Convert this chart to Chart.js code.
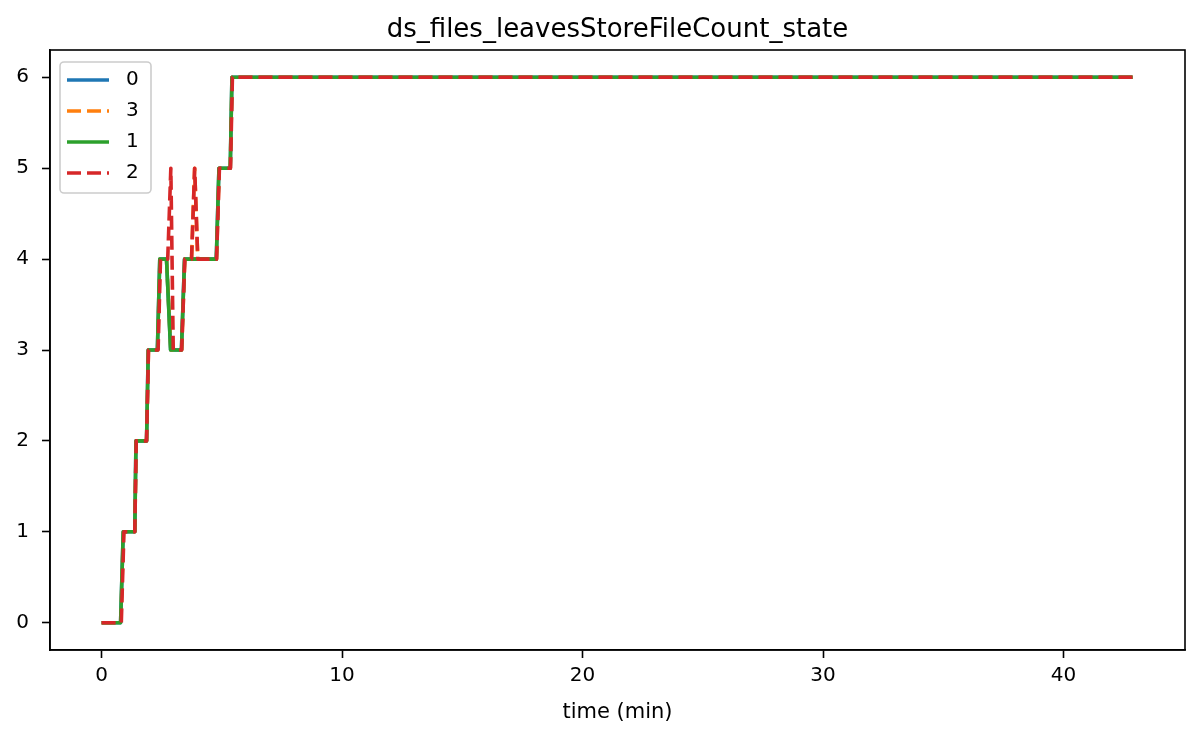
<!DOCTYPE html>
<html>
<head>
<meta charset="utf-8">
<script src="https://cdn.jsdelivr.net/npm/chart.js@4"></script>
<style>
    html, body { margin: 0; padding: 0; background: #fff; }
    #wrapper { width: 1194px; height: 735px; }
</style>
</head>
<body>
<div id="wrapper"><canvas id="chart" width="1194" height="735"></canvas></div>
<script>
const chartTitle = 'ds_files_leavesStoreFileCount_state'
const xLabel = 'time (min)'
const xTicks = [0, 10, 20, 30, 40]
const yTicks = [0, 1, 2, 3, 4, 5, 6]

// legend order as in the picture
const seriesLabels = ['0', '3', '1', '2']
const seriesColors = ['#1f77b4', '#ff7f0e', '#2ca02c', '#d62728']
const seriesDashed = [false, true, false, true]

// series "0"
const times0 = [0, 0.79, 0.9, 1.38, 1.43, 1.87, 1.94, 2.32, 2.42, 2.7, 2.87, 3.32, 3.45, 4.77, 4.88, 5.35, 5.42, 42.87]
const values0 = [0, 0, 1, 1, 2, 2, 3, 3, 4, 4, 3, 3, 4, 4, 5, 5, 6, 6]

// series "3"
const times3 = [0, 0.8, 0.91, 1.38, 1.44, 1.87, 1.95, 2.33, 2.43, 2.7, 2.88, 3.33, 3.46, 3.74, 3.87, 4.0, 4.78, 4.89, 5.35, 5.43, 42.87]
const values3 = [0, 0, 1, 1, 2, 2, 3, 3, 4, 4, 3, 3, 4, 4, 5, 4, 4, 5, 5, 6, 6]

// series "1"
const times1 = [0, 0.79, 0.9, 1.38, 1.43, 1.87, 1.94, 2.32, 2.42, 2.7, 2.87, 3.32, 3.45, 4.77, 4.88, 5.35, 5.42, 42.87]
const values1 = [0, 0, 1, 1, 2, 2, 3, 3, 4, 4, 3, 3, 4, 4, 5, 5, 6, 6]

// series "2"
const times2 = [0, 0.82, 0.93, 1.38, 1.44, 1.87, 1.95, 2.35, 2.45, 2.75, 2.88, 2.98, 3.33, 3.46, 3.74, 3.87, 4.0, 4.78, 4.9, 5.36, 5.44, 42.87]
const values2 = [0, 0, 1, 1, 2, 2, 3, 3, 4, 4, 5, 3, 3, 4, 4, 5, 4, 4, 5, 5, 6, 6]

const seriesTimes = [times0, times3, times1, times2]
const seriesValues = [values0, values3, values1, values2]

const fontFamily = '"DejaVu Sans", sans-serif'
const lineWidth = 3.6

const toPoints = (times, values) => times.map((t, i) => ({x: t, y: values[i]}))

const makeDatasets = () => {
    return seriesLabels.map((label, i) => ({
        label: label,
        data: toPoints(seriesTimes[i], seriesValues[i]),
        borderColor: seriesColors[i],
        backgroundColor: seriesColors[i],
        borderWidth: lineWidth,
        borderDash: seriesDashed[i] ? [14, 6] : [],
        borderJoinStyle: 'round',
        pointRadius: 0,
        tension: 0,
        fill: false,
        // later matplotlib series sit on top
        order: seriesLabels.length - 1 - i
    }))
}

// title centred over the plot area, like matplotlib's axes title
const titlePlugin = {
    id: 'axesTitle',
    afterDraw: (chart) => {
        const {ctx, chartArea} = chart
        ctx.save()
        ctx.fillStyle = '#000'
        ctx.font = '26px ' + fontFamily
        ctx.textAlign = 'center'
        ctx.textBaseline = 'alphabetic'
        ctx.fillText(chartTitle, (chartArea.left + chartArea.right) / 2, 37)
        ctx.restore()
    }
}

const framePlugin = {
    id: 'frame',
    afterDatasetsDraw: (chart) => {
        const {ctx, chartArea} = chart
        ctx.save()
        ctx.strokeStyle = '#000'
        ctx.lineWidth = 1.6
        ctx.strokeRect(chartArea.left, chartArea.top, chartArea.right - chartArea.left, chartArea.bottom - chartArea.top)
        ctx.restore()
    }
}

const legendPlugin = {
    id: 'insideLegend',
    afterDraw: (chart) => {
        const {ctx, chartArea} = chart
        const x = chartArea.left + 10
        const y = chartArea.top + 12
        ctx.save()
        ctx.fillStyle = 'rgba(255,255,255,0.8)'
        ctx.strokeStyle = '#cccccc'
        ctx.lineWidth = 1.6
        ctx.beginPath()
        ctx.roundRect(x, y, 91, 131, 4)
        ctx.fill()
        ctx.stroke()

        chart.data.datasets.forEach((ds, i) => {
            const cy = y + 18 + i * 31
            ctx.strokeStyle = ds.borderColor
            ctx.lineWidth = lineWidth
            ctx.setLineDash(ds.borderDash)
            ctx.beginPath()
            ctx.moveTo(x + 7, cy)
            ctx.lineTo(x + 49, cy)
            ctx.stroke()
            ctx.setLineDash([])

            ctx.fillStyle = '#000'
            ctx.font = '20px ' + fontFamily
            ctx.textBaseline = 'middle'
            ctx.textAlign = 'left'
            ctx.fillText(ds.label, x + 66, cy)
        })
        ctx.restore()
    }
}

const axisStyle = {
    grid: {
        display: true,
        drawOnChartArea: false,
        drawTicks: true,
        tickLength: 8,
        tickWidth: 1.6,
        tickColor: '#000'
    },
    border: {display: true, color: '#000', width: 1.6}
}

const ctx = document.getElementById('chart')

new Chart(ctx, {
    type: 'line',
    data: {datasets: makeDatasets()},
    options: {
        responsive: false,
        animation: false,
        devicePixelRatio: 1,
        layout: {padding: {left: 0, right: 9, top: 50, bottom: 0}},
        plugins: {
            legend: {display: false},
            tooltip: {enabled: false},
            title: {display: false}
        },
        scales: {
            x: {
                type: 'linear',
                min: -2.145,
                max: 45.05,
                ...axisStyle,
                afterBuildTicks: (scale) => {
                    scale.ticks = xTicks.map(v => ({value: v}))
                },
                afterFit: (scale) => {
                    scale.height = 85
                },
                ticks: {
                    color: '#000',
                    padding: 6,
                    maxRotation: 0,
                    font: {family: fontFamily, size: 20}
                },
                title: {
                    display: true,
                    text: xLabel,
                    color: '#000',
                    font: {family: fontFamily, size: 21},
                    padding: {top: 0, bottom: 10}
                }
            },
            y: {
                type: 'linear',
                min: -0.3,
                max: 6.3,
                ...axisStyle,
                afterBuildTicks: (scale) => {
                    scale.ticks = yTicks.map(v => ({value: v}))
                },
                afterFit: (scale) => {
                    scale.width = 50
                },
                ticks: {
                    color: '#000',
                    padding: 13,
                    font: {family: fontFamily, size: 20}
                }
            }
        }
    },
    plugins: [titlePlugin, framePlugin, legendPlugin]
})
</script>
</body>
</html>
